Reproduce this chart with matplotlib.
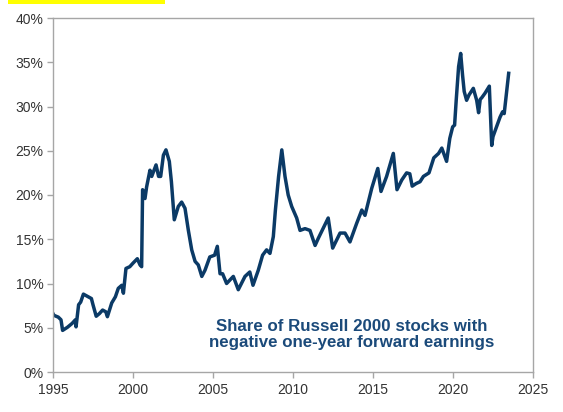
import matplotlib
matplotlib.use("Agg")
import matplotlib.pyplot as plt
from matplotlib.patches import Rectangle
from matplotlib.ticker import FuncFormatter

# Data (year fraction, % share)
years = [1995.0, 1995.06, 1995.33, 1995.5, 1995.6, 1995.9, 1996.2, 1996.4, 1996.44, 1996.6,
         1996.73, 1996.9, 1997.1, 1997.4, 1997.5, 1997.7, 1997.9, 1998.1, 1998.3, 1998.4,
         1998.67, 1998.9, 1999.08, 1999.3, 1999.4, 1999.56, 1999.8, 2000.0, 2000.27, 2000.44,
         2000.54, 2000.6, 2000.75, 2000.85, 2001.06, 2001.17, 2001.44, 2001.6, 2001.73, 2001.9,
         2002.06, 2002.27, 2002.4, 2002.58, 2002.83, 2003.04, 2003.25, 2003.46, 2003.67, 2003.88,
         2004.08, 2004.3, 2004.5, 2004.8, 2005.1, 2005.27, 2005.44, 2005.6, 2005.85, 2006.27,
         2006.58, 2007.0, 2007.3, 2007.5, 2007.83, 2008.1, 2008.35, 2008.56, 2008.77, 2008.9,
         2009.1, 2009.3, 2009.5, 2009.7, 2009.92, 2010.23, 2010.44, 2010.75, 2011.06, 2011.38,
         2011.58, 2012.2, 2012.48, 2012.94, 2013.25, 2013.56, 2013.98, 2014.3, 2014.5, 2014.92,
         2015.3, 2015.5, 2015.85, 2016.27, 2016.5, 2016.8, 2017.1, 2017.3, 2017.45, 2017.7,
         2017.94, 2018.15, 2018.5, 2018.8, 2019.1, 2019.3, 2019.6, 2019.8, 2019.98, 2020.1,
         2020.2, 2020.35, 2020.48, 2020.6, 2020.7, 2020.85, 2021.0, 2021.27, 2021.48, 2021.6,
         2021.7, 2021.8, 2022.0, 2022.27, 2022.42, 2022.5, 2022.94, 2023.1, 2023.2, 2023.48]
share = [6.6, 6.4, 6.2, 5.9, 4.7, 5.05, 5.5, 5.9, 5.1, 7.6,
         7.9, 8.8, 8.6, 8.3, 7.6, 6.3, 6.6, 7.0, 6.8, 6.25,
         7.8, 8.5, 9.45, 9.8, 8.9, 11.7, 11.9, 12.3, 12.8, 12.1,
         11.9, 20.6, 19.6, 20.9, 22.8, 22.1, 23.4, 22.1, 22.1, 24.5,
         25.1, 23.8, 21.5, 17.2, 18.7, 19.2, 18.5, 16.0, 13.8, 12.5,
         12.1, 10.8, 11.5, 13.0, 13.2, 14.2, 11.1, 11.1, 10.0, 10.8,
         9.3, 10.8, 11.3, 9.8, 11.5, 13.2, 13.8, 13.4, 15.3, 18.3,
         22.1, 25.1, 22.1, 20.0, 18.7, 17.4, 16.0, 16.2, 16.0, 14.3,
         15.1, 17.4, 14.0, 15.7, 15.7, 14.7, 16.8, 18.3, 17.7, 20.75,
         23.0, 20.4, 22.1, 24.7, 20.6, 21.7, 22.5, 22.4, 21.0, 21.3,
         21.5, 22.1, 22.5, 24.2, 24.7, 25.3, 23.8, 26.4, 27.7, 27.9,
         30.7, 34.5, 36.0, 33.5, 31.7, 30.7, 31.3, 32.05, 30.7, 29.3,
         30.8, 31.0, 31.5, 32.3, 25.6, 26.6, 28.8, 29.4, 29.2, 33.75]

x_ticks = [1995, 2000, 2005, 2010, 2015, 2020, 2025]
y_ticks = [0, 5, 10, 15, 20, 25, 30, 35, 40]
label_text = "Share of Russell 2000 stocks with\nnegative one-year forward earnings"

plt.rcParams['font.family'] = ['Liberation Sans', 'DejaVu Sans']

fig = plt.figure(figsize=(5.63, 4.12), dpi=100)
ax = fig.add_axes([53/563, 1 - 372/412, 480/563, 354/412])

navy = '#0b3a66'
ax.plot(years, share, color=navy, lw=2.5, solid_joinstyle='round')

ax.set_xlim(1995, 2025)
ax.set_ylim(0, 40)
ax.set_xticks(x_ticks)
ax.set_yticks(y_ticks)
ax.yaxis.set_major_formatter(FuncFormatter(lambda v, p: f"{int(v)}%"))

for s in ax.spines.values():
    s.set_color('#a6a6a6')
    s.set_linewidth(1.0)
ax.tick_params(axis='both', colors='#a6a6a6', labelcolor='#333333', labelsize=10,
               direction='out', length=4, width=1.0)
ax.tick_params(axis='x', pad=4)
ax.tick_params(axis='y', pad=3)

ax.text(0.623, 0.107, label_text, transform=ax.transAxes, ha='center', va='center',
        fontsize=12.2, fontweight='bold', color='#1b4a7a', linespacing=1.1)

# Yellow highlight fragment at the top
fig.patches.append(Rectangle((8/563, 1 - 4/412), 157/563, 4/412, transform=fig.transFigure,
                             facecolor='#ffff00', edgecolor='none'))

fig.savefig('out.png', dpi=100)
